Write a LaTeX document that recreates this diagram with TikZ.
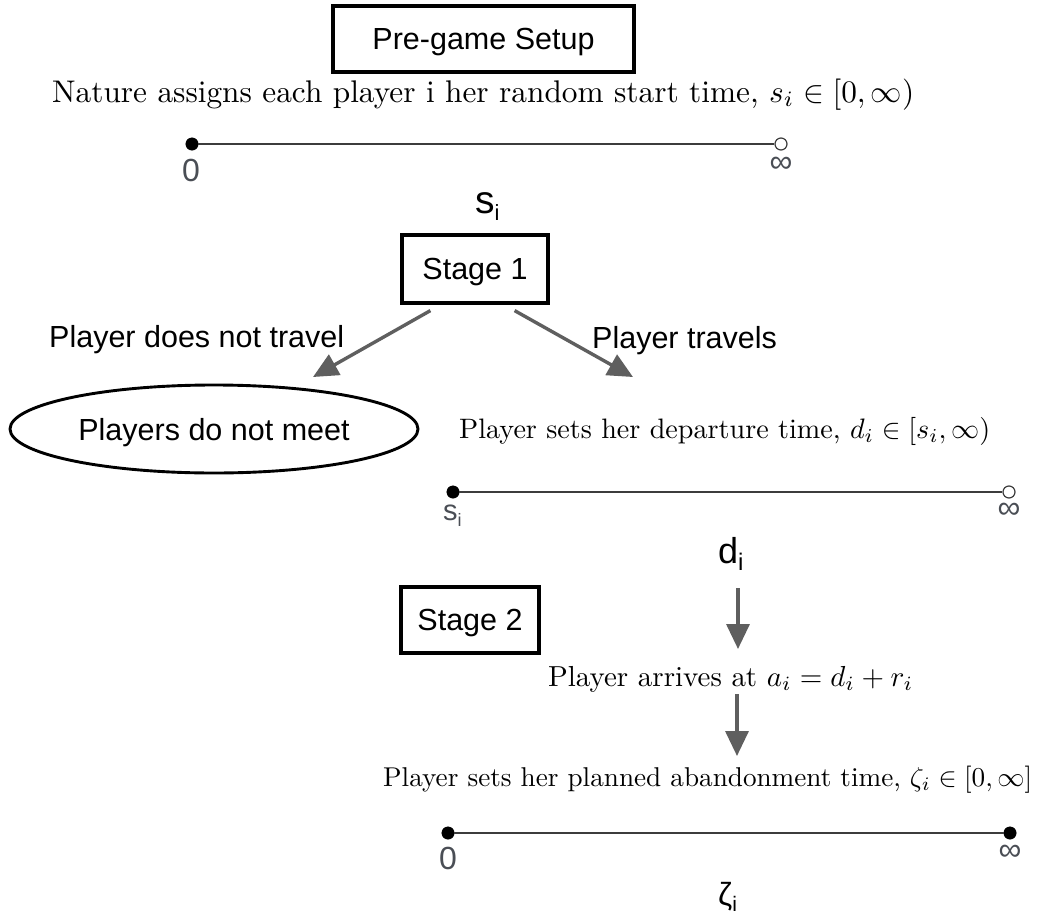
\documentclass[tikz,border=0pt]{standalone}
\usepackage{fontspec}
\usepackage{graphicx}
\newfontfamily\arial{Liberation Sans}
\usetikzlibrary{arrows.meta,shapes.geometric}
\definecolor{arrowgray}{HTML}{5F5F5F}
\definecolor{linegray}{HTML}{3C3C3C}
\definecolor{labgray}{HTML}{4A4E55}
\newcommand{\sfs}[1]{\arial\fontsize{#1}{#1}\selectfont}
\tikzset{
  stagebox/.style={draw=black, line width=3.2pt, inner sep=0pt, text depth=0pt,
    font=\sfs{30.5}},
  endbox/.style={ellipse, draw=black, line width=2.9pt, inner sep=0pt, text depth=0pt,
    font=\sfs{30.5}},
  sflabel/.style={anchor=base west, inner sep=0pt, font=\sfs{30.5}},
  txtline/.style={anchor=base west, inner sep=0pt},
  dotf/.style={circle, fill=black, draw=black, inner sep=0pt, minimum size=12.5pt},
  doto/.style={circle, fill=white, draw=linegray, line width=1.2pt, inner sep=0pt, minimum size=12pt},
  tline/.style={draw=linegray, line width=2.2pt},
  ticklab/.style={inner sep=0pt, text=labgray, font=\sfs{32}},
  bigsub/.style={anchor=base west, inner sep=0pt},
  arr/.style={draw=arrowgray, line width=3.4pt, -{Triangle[length=25pt,width=23pt]}}
}
\begin{document}
\begin{tikzpicture}[x=1pt,y=-1pt]
\useasboundingbox (0,0) rectangle (1045,921);

% Pre-game setup
\node[stagebox, minimum width=301pt, minimum height=66pt] (pre) at (483.5,39) {Pre-game Setup};
\node[txtline] (nat) at (52,102) {\resizebox{862pt}{!}{Nature assigns each player i her random start time, $s_i\in[0,\infty)$}};

% timeline 1
\node[dotf] (t1a) at (192,144) {};
\node[doto] (t1b) at (781,144) {};
\draw[tline] (t1a) -- (t1b);
\node[ticklab] (t1l0) at (191,170) {0};
\node[ticklab] (t1li) at (781,164.5) {∞};

\node[bigsub] (si) at (475,213) {\sfs{39}s\raisebox{-7pt}{\sfs{22}i}};

% Stage 1
\node[stagebox, minimum width=146pt, minimum height=68pt] (s1) at (475,269) {Stage 1};
\coordinate (tipL) at (313,377);
\coordinate (tipR) at (633,377);
\draw[arr] ([xshift=30pt,yshift=-6pt]s1.south west) -- (tipL);
\draw[arr] ([xshift=-35pt,yshift=-6pt]s1.south east) -- (tipR);
\node[sflabel] (lnt) at (49,347) {Player does not travel};
\node[sflabel] (lt) at (592,348) {Player travels};

% no meeting
\node[endbox, minimum width=408pt, minimum height=88pt] (nm) at (214,429) {Players do not meet};

% departure
\node[txtline] (dep) at (459,438) {\resizebox{531pt}{!}{Player sets her departure time, $d_i\in[s_i,\infty)$}};
\node[dotf] (t2a) at (453,492) {};
\node[doto] (t2b) at (1009,492) {};
\draw[tline] (t2a) -- (t2b);
\node[bigsub] (t2l0) at (443,520) {\color{labgray}\sfs{29}s\raisebox{-6pt}{\sfs{18}i}};
\node[ticklab] (t2li) at (1009,510.5) {∞};

\node[bigsub] (di) at (718,563) {\sfs{36}d\raisebox{-7pt}{\sfs{24}i}};

% Stage 2
\node[stagebox, minimum width=138pt, minimum height=66pt] (s2) at (470,620) {Stage 2};
\coordinate (a1s) at (738,588);
\coordinate (a1e) at (738,649);
\draw[arr] (a1s) -- (a1e);
\node[txtline] (arrv) at (548,686) {\resizebox{365pt}{!}{Player arrives at $a_i=d_i+r_i$}};
\coordinate (a2s) at (737,694);
\coordinate (a2e) at (737,756);
\draw[arr] (a2s) -- (a2e);
\node[txtline] (aband) at (383,786) {\resizebox{649pt}{!}{Player sets her planned abandonment time, $\zeta_i\in[0,\infty]$}};

% timeline 3
\node[dotf] (t3a) at (448,833) {};
\node[dotf] (t3b) at (1010,833) {};
\draw[tline] (t3a) -- (t3b);
\node[ticklab] (t3l0) at (448,858) {0};
\node[ticklab] (t3li) at (1010,853) {∞};

\node[bigsub] (zi) at (718,905) {\sfs{32}ζ\raisebox{-6pt}{\sfs{21}i}};
\end{tikzpicture}
\end{document}
